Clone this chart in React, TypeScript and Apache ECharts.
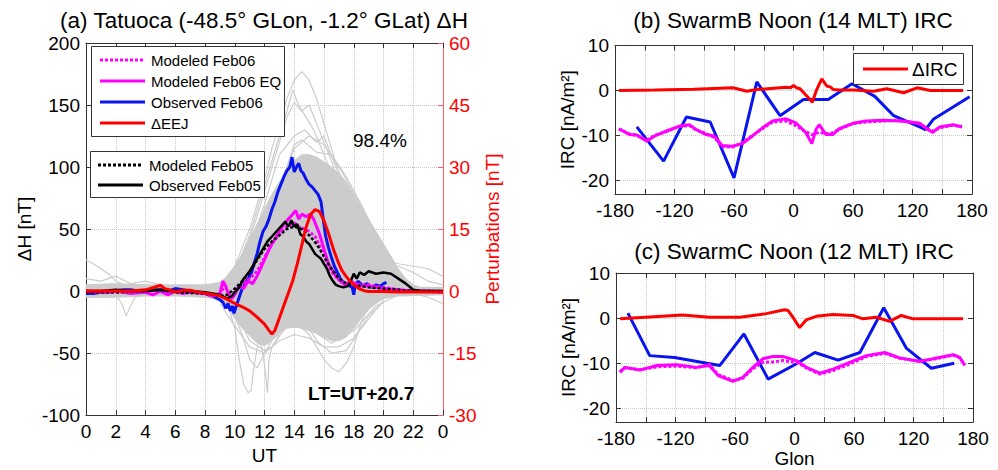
import React, { useEffect, useRef } from "react";
import * as echarts from "echarts";

// ---------- Panel (a): Tatuoca ΔH ----------
const UT_TICK_LABELS = ["0", "2", "4", "6", "8", "10", "12", "14", "16", "18", "20", "22", "0"];

const OBSERVED_FEB06: number[][] = [
  [0, -2], [0.5, -2], [1, -1], [1.5, -1], [2, 0], [2.5, 1], [3, 1], [3.5, 0], [4, 0], [4.5, 1], [5, 1], [5.5, 0],
  [6, 2], [6.5, 1], [7, 0], [7.5, -1], [8, -2], [8.5, -4], [9, -7], [9.2, -9], [9.4, -14], [9.55, -10], [9.7, -16],
  [9.85, -12], [9.95, -18], [10.1, -12], [10.3, -5], [10.5, 2], [10.7, 6], [10.9, 10], [11.1, 14], [11.3, 22],
  [11.5, 30], [11.7, 40], [11.9, 48], [12.1, 52], [12.3, 58], [12.5, 66], [12.7, 72], [12.9, 80], [13.1, 86],
  [13.3, 92], [13.5, 97], [13.7, 100], [13.85, 108], [14.0, 96], [14.15, 100], [14.3, 103], [14.45, 97],
  [14.6, 95], [14.8, 90], [15.0, 86], [15.2, 84], [15.4, 81], [15.6, 78], [15.8, 72], [15.95, 58], [16.1, 45],
  [16.3, 35], [16.5, 27], [16.7, 20], [16.9, 15], [17.1, 10], [17.3, 7], [17.6, 5], [17.9, 3], [18.0, -3],
  [18.1, 5], [18.3, 8], [18.6, 4], [18.9, 6], [19.2, 3], [19.5, 5], [19.8, 4], [20.0, 6], [20.2, 7],
];

const OBSERVED_FEB05: number[][] = [
  [0, 0], [1, 0], [2, 1], [3, 0], [4, 0], [5, 1], [6, 0], [7, 0], [8, -1], [8.5, -2], [9, -3], [9.5, -6], [9.8, -4],
  [10, -1], [10.3, 3], [10.6, 10], [11, 16], [11.3, 22], [11.6, 28], [11.9, 34], [12.2, 40], [12.5, 44], [12.8, 48],
  [13.1, 52], [13.4, 56], [13.6, 52], [13.8, 57], [14.0, 52], [14.2, 54], [14.4, 46], [14.6, 44], [14.8, 40],
  [15.0, 38], [15.2, 34], [15.4, 30], [15.6, 28], [15.8, 26], [16.0, 22], [16.2, 18], [16.4, 12], [16.6, 8],
  [16.8, 5], [17.0, 4], [17.3, 3], [17.6, 4], [17.8, 8], [18.0, 14], [18.2, 10], [18.4, 15], [18.7, 13], [19.0, 16],
  [19.5, 14], [20.0, 15], [20.5, 14], [21.0, 10], [21.5, 6], [22.0, 1], [22.5, 0], [23, 0], [24, 0],
];

const MODELED_FEB05: number[][] = [
  [0, -1], [2, -1], [4, 0], [5, 1], [6, -1], [8, -2], [9, -4], [9.5, -3], [10, 2], [10.5, 8], [11, 15], [11.5, 25],
  [12, 34], [12.5, 40], [13, 45], [13.5, 50], [14, 52], [14.5, 50], [15, 45], [15.5, 38], [16, 28], [16.5, 18],
  [17, 10], [17.5, 6], [18, 5], [18.5, 4], [19, 3], [20, 2], [21, 1], [22, 0], [24, 0],
];

const MODELED_FEB06_EQ: number[][] = [
  [0, 0], [1, -1], [2, 0], [3, -2], [4, -1], [4.5, -3], [5, 0], [5.5, -3], [6, 0], [6.5, -2], [7, -1], [8, -2],
  [8.5, -4], [9, -2], [9.2, 8], [9.4, 4], [9.6, -4], [9.8, -6], [10, -3], [10.3, 5], [10.6, 2], [10.9, 8], [11.2, 6],
  [11.5, 12], [11.8, 20], [12.1, 28], [12.4, 36], [12.7, 42], [13.0, 48], [13.3, 54], [13.6, 58], [13.9, 62],
  [14.1, 65], [14.3, 58], [14.5, 62], [14.8, 60], [15.1, 62], [15.3, 58], [15.5, 52], [15.7, 46], [15.9, 38],
  [16.1, 30], [16.3, 22], [16.5, 18], [16.8, 12], [17.1, 8], [17.4, 5], [17.8, 8], [18.1, 6], [18.5, 4], [19, 4],
  [19.5, 3], [20, 2], [21, 1], [22, 0], [23, 0], [24, -1],
];

const MODELED_FEB06: number[][] = [
  [0, -1], [2, -1], [4, 0], [5, 1], [6, -1], [7, -1], [8, -2], [9, -4], [9.3, 5], [9.6, -2], [10, -1], [10.5, 6],
  [11, 10], [11.5, 16], [12, 27], [12.5, 38], [13, 46], [13.5, 52], [14, 55], [14.3, 52], [14.7, 50], [15, 48],
  [15.4, 44], [15.8, 34], [16.2, 22], [16.6, 14], [17, 9], [17.5, 6], [18, 6], [18.5, 5], [19, 5], [19.5, 4],
  [20, 3], [21, 1], [22, 0], [24, -1],
];

// ΔEEJ on the right (Perturbations) axis
const DELTA_EEJ: number[][] = [
  [0, 0], [1, 0], [2, 0], [3, 0], [4, 0.3], [4.5, 0.8], [5, 1.4], [5.3, 0.6], [5.7, 0.2], [6, -0.2], [6.5, 0.2],
  [7, 0.2], [7.5, -0.2], [8, -0.5], [8.5, -0.8], [9, -1.2], [9.5, -2], [10, -3], [10.5, -3.8], [11, -4.8],
  [11.5, -6.3], [12, -8], [12.3, -9.5], [12.5, -10.4], [12.7, -9.5], [13, -6.5], [13.3, -3.5], [13.6, -0.5],
  [13.9, 2.5], [14.2, 6.5], [14.5, 11], [14.8, 15.5], [15.1, 18.5], [15.4, 19.7], [15.7, 19.2], [16.0, 17],
  [16.3, 14], [16.6, 10.5], [16.9, 7.5], [17.2, 5], [17.5, 3.5], [17.8, 2.2], [18.1, 1.2], [18.4, 0.5],
  [18.7, 0.1], [19, -0.1], [20, -0.1], [21, -0.2], [22, -0.2], [23, -0.2], [24, -0.2],
];

// Dense ensemble of gray curves: envelope
const BAND_UPPER: number[][] = [
  [0, 5], [2, 6], [4, 5], [6, 5], [8, 5], [9, 7], [9.5, 12], [10, 20], [10.5, 30], [11, 42], [11.5, 54], [12, 66],
  [12.5, 78], [13, 88], [13.5, 97], [14, 105], [14.5, 110], [15, 110], [15.5, 108], [16, 104], [16.5, 100],
  [17, 95], [17.5, 88], [18, 78], [18.5, 68], [19, 58], [19.5, 48], [20, 38], [20.5, 28], [21, 18], [21.5, 10],
  [22, 5], [22.5, 3], [24, 3],
];
const BAND_LOWER: number[][] = [
  [0, -5], [2, -5], [4, -4], [6, -4], [8, -5], [8.5, -6], [9, -8], [9.5, -12], [10, -22], [10.5, -30], [11, -36],
  [11.5, -42], [12, -44], [12.5, -40], [13, -34], [13.5, -30], [14, -29], [14.5, -30], [15, -32], [15.5, -34],
  [16, -37], [16.5, -40], [17, -40], [17.5, -37], [18, -30], [18.5, -22], [19, -15], [19.5, -10], [20, -6],
  [21, -4], [24, -3],
];

const GRAY_1 = [[8, 0], [9, 5], [10, 20], [11, 50], [12, 90], [12.5, 115], [13, 135], [13.5, 155], [14, 170], [14.5, 177], [15, 170], [15.5, 155], [16, 135], [16.5, 115], [17, 95], [17.5, 75], [18, 55], [19, 30], [20, 12], [21, 5], [22, 2]];
const GRAY_2 = [[9, 2], [10, 15], [11, 45], [12, 85], [13, 125], [13.5, 145], [13.9, 162], [14.3, 150], [14.8, 140], [15.3, 130], [16, 110], [17, 80], [18, 50], [19, 25], [20, 10], [21, 3]];
const GRAY_3 = [[9, 0], [10.5, 25], [11.5, 60], [12.5, 100], [13.5, 140], [14, 152], [14.5, 145], [15, 150], [15.5, 135], [16.5, 105], [17.5, 70], [18.5, 40], [19.5, 18], [20.5, 6]];
const GRAY_4 = [[9.5, 5], [11, 35], [12, 70], [13, 110], [14, 125], [14.7, 130], [15.5, 120], [16, 125], [16.8, 100], [17.5, 85], [18.5, 60], [19.5, 35], [20.5, 15], [21.5, 5]];
const GRAY_5 = [[0, 25], [0.5, 22], [1, 18], [1.5, 14], [2, 8], [2.5, 5], [3, 3], [4, 2], [5, 0]];
const GRAY_6 = [[1.5, 0], [2, -3], [2.4, -10], [2.7, -20], [3, -12], [3.3, -5], [3.8, -2], [4.5, 0]];
const GRAY_7 = [[9.5, -10], [10, -30], [10.3, -55], [10.6, -75], [10.9, -82], [11.1, -80], [11.3, -60], [11.6, -40], [12, -30]];
const GRAY_8 = [[11.5, -35], [11.8, -45], [12.0, -60], [12.2, -82], [12.3, -55], [12.5, -45], [13, -35]];
const GRAY_9 = [[14, -25], [15, -35], [15.5, -45], [16, -55], [16.5, -62], [17, -65], [17.5, -58], [18, -45], [18.5, -25], [19, -12]];
const GRAY_10 = [[14.5, -20], [15.5, -40], [16.5, -50], [17.5, -48], [18.5, -30], [19.5, -15], [20, -8]];
const GRAY_11 = [[18, 30], [19, 28], [20, 25], [21, 22], [22, 20], [23, 18], [24, 12]];
const GRAY_12 = [[19, 15], [20, 18], [21, 20], [22, 15], [23, 8], [24, 5]];
const GRAY_13 = [[0, 10], [1, 8], [2, 12], [3, 6], [4, 8], [5, 5], [6, 3]];
const GRAY_14 = [[21, 0], [22, -2], [23, -5], [24, -10]];
const GRAY_15 = [[10, -20], [10.5, -35], [11, -55], [11.5, -62], [12, -50], [12.5, -40]];
const GRAY_16 = [[10, 10], [11, 30], [12, 55], [13, 80], [14, 115], [15, 125], [16, 118], [17, 100], [18, 80], [19, 55], [20, 30], [21, 12], [22, 4]];
const GRAY_17 = [[11, 20], [12, 45], [13, 75], [13.5, 100], [14, 118], [14.5, 122], [15.5, 112], [16.5, 110], [17.5, 92], [18.5, 70], [19.5, 45], [20.5, 22], [21.5, 8]];
const GRAY_18 = [[9, -10], [10, -28], [11, -45], [12, -50], [13, -40], [14, -35], [15, -38], [16, -45], [17, -45], [18, -38], [19, -20], [20, -8]];
const GRAY_19 = [[10, -15], [11, -40], [12, -48], [12.5, -45], [13.5, -28], [15, -30], [16.5, -42], [18, -32], [19.5, -12], [21, -3]];
const GRAY_CURVES = [GRAY_1, GRAY_2, GRAY_3, GRAY_4, GRAY_5, GRAY_6, GRAY_7, GRAY_8, GRAY_9, GRAY_10, GRAY_11, GRAY_12, GRAY_13, GRAY_14, GRAY_15, GRAY_16, GRAY_17, GRAY_18, GRAY_19];

// ---------- Panels (b), (c): IRC vs Glon ----------
const GLON_TICK_LABELS = [-180, -120, -60, 0, 60, 120, 180];
const IRC_TICKS = [-20, -10, 0, 10];

const B_OBSERVED: number[][] = [
  [-158, -8.1], [-131, -15.7], [-108, -5.9], [-84, -7.0], [-60, -19.4], [-37, 1.9], [-13.6, -5.6], [10, -2.0],
  [35, -2.0], [59, 1.5], [82, -1.3], [101, -5.6], [129.5, -8.3], [133, -8.7], [141, -6.4], [177.6, -1.4],
];
const B_DELTA_IRC: number[][] = [
  [-176, 0], [-140, 0.1], [-100, 0.3], [-61, 0.6], [-47, -0.15], [-37, 0.2], [-20, 0.5], [-7, 0.7], [-3, 0.6],
  [0, 1.1], [3, 0.6], [6.6, 0.4], [15, -1.6], [19, -2.6], [23.4, 0.2], [28.5, 2.6], [33.5, 1.0], [37, 0.8],
  [40.3, 0.2], [47, 0.1], [60.5, 0.1], [80.7, -0.15], [94, 0.4], [111, -0.5], [124.6, 0.6], [138, 0], [171, 0],
];
const B_MODELED_EQ: number[][] = [
  [-176, -8.5], [-165, -9.8], [-158, -9.9], [-148, -11.3], [-140, -10.1], [-128, -9.0], [-115, -7.9], [-105, -7.6],
  [-98, -8.7], [-88, -9.8], [-80, -10.1], [-72, -12.2], [-62, -12.4], [-51.5, -11.8], [-41.4, -10.1], [-31.3, -8.3],
  [-21.2, -6.8], [-7.7, -6.3], [2.4, -7.2], [12.5, -9.4], [18.5, -11.8], [22.6, -8.7], [26, -7.6], [32.7, -9.8],
  [39.5, -9.8], [46.2, -8.5], [59.7, -7.3], [73, -6.8], [90, -6.6], [107, -6.8], [127, -7.2], [135.5, -8.7],
  [140.5, -9.3], [147.3, -8.1], [160.8, -7.6], [170, -8.1],
];
const B_MODELED: number[][] = [
  [-176, -8.6], [-165, -9.7], [-158, -10.0], [-148, -11.0], [-140, -10.0], [-128, -9.1], [-115, -8.0],
  [-105, -7.8], [-98, -8.8], [-88, -9.6], [-80, -10.4], [-72, -12.5], [-62, -12.6], [-51.5, -11.6], [-41.4, -10.0],
  [-31.3, -8.5], [-21.2, -7.0], [-7.7, -6.8], [2.4, -7.8], [12.5, -9.2], [18.5, -9.8], [26, -9.3], [32.7, -9.6],
  [39.5, -9.4], [46.2, -8.6], [59.7, -7.4], [73, -7.0], [90, -6.8], [107, -6.6], [127, -7.4], [135.5, -8.5],
  [140.5, -9.0], [147.3, -8.3], [160.8, -7.7], [170, -8.0],
];

const C_OBSERVED: number[][] = [
  [-168, 1.1], [-146, -8.3], [-121, -8.7], [-75.4, -10.5], [-51, -3.5], [-26.6, -13.5], [2, -10.1], [20.5, -7.6],
  [44, -9.3], [66, -7.6], [90, 2.3], [113, -6.7], [138, -11.1], [161, -10.0],
];
const C_DELTA_IRC: number[][] = [
  [-176, -0.15], [-150, 0.2], [-113, 0.7], [-86, 0.2], [-55, 0.2], [-28.5, 1.0], [-10, 1.85], [-6.6, 1.7],
  [-1.6, 0.2], [5.1, -2.1], [11.8, -0.4], [21.9, 0.4], [38.7, 0.8], [58.9, 0.6], [69, -0.15], [82.5, 0.2],
  [95.9, -0.7], [107.7, 0.6], [119.5, -0.15], [139.7, -0.15], [170, -0.15],
];
const C_MODELED_EQ: number[][] = [
  [-176, -12], [-171, -10.9], [-156, -11.5], [-139, -10.5], [-119, -10.3], [-99, -10.9], [-86, -10.5], [-77, -12.7],
  [-62, -14], [-52, -13.1], [-42, -10.9], [-32, -9.0], [-22, -8.5], [-11.6, -8.5], [1.9, -9.4], [12, -10.9],
  [25.5, -12.2], [38.9, -11.3], [55.7, -9.8], [72.5, -8.3], [91, -7.6], [106, -8.8], [126, -9.6], [139.7, -9.0],
  [160, -8.1], [166.7, -8.7], [171.7, -10.5],
];
const C_MODELED: number[][] = [
  [-176, -11.8], [-171, -11.0], [-156, -11.4], [-139, -10.8], [-119, -10.6], [-99, -11.0], [-86, -10.2],
  [-77, -12.5], [-62, -13.8], [-52, -13.3], [-42, -11.2], [-32, -9.8], [-22, -9.7], [-11.6, -9.4], [1.9, -9.8],
  [12, -11.0], [25.5, -12.4], [38.9, -11.6], [55.7, -10.2], [72.5, -8.5], [91, -7.8], [106, -8.9], [126, -9.5],
  [139.7, -9.1], [160, -8.2], [166.7, -8.8], [171.7, -10.3],
];

// ---------- styling ----------
const FONT = "'Liberation Sans', Arial, Helvetica, sans-serif";
const AXC = "#333333";
const GRIDC = "#c8c8c8";
const GRAY = "#cccccc";
const BLUE = "#0a14f0";
const RED = "#ff0000";
const MAGENTA = "#ff00ff";
const BLACK = "#000000";

function xAxisDef(gridIndex: number, min: number, max: number, interval: number, labels: boolean, formatter: any, name?: string, top?: boolean) {
  return {
    type: "value",
    gridIndex,
    min,
    max,
    interval,
    position: top ? "top" : "bottom",
    name: name || "",
    nameLocation: "middle",
    nameGap: 27,
    nameTextStyle: { fontSize: 19, color: "#000", fontFamily: FONT },
    axisLine: { show: true, onZero: false, lineStyle: { color: AXC, width: 1 } },
    axisTick: { show: true, inside: true, length: 5, lineStyle: { color: AXC } },
    axisLabel: { show: labels, color: "#000", fontSize: 19, fontFamily: FONT, margin: 7, formatter },
    splitLine: { show: !top, lineStyle: { color: GRIDC, type: "dotted", width: 1 } },
  };
}

function ircYAxis(gridIndex: number, right: boolean) {
  return {
    type: "value",
    gridIndex,
    min: -23,
    max: 10,
    position: right ? "right" : "left",
    name: right ? "" : "IRC [nA/m²]",
    nameLocation: "middle",
    nameGap: 38,
    nameRotate: 90,
    nameTextStyle: { fontSize: 19, color: "#000", fontFamily: FONT },
    axisLine: { show: true, onZero: false, lineStyle: { color: AXC, width: 1 } },
    axisTick: { show: true, inside: true, length: 5, customValues: IRC_TICKS, lineStyle: { color: AXC } },
    axisLabel: { show: !right, customValues: IRC_TICKS, color: "#000", fontSize: 19, fontFamily: FONT, margin: 6 },
    splitLine: { show: !right, lineStyle: { color: GRIDC, type: "dotted", width: 1 } },
  };
}

function lineSeries(name: string, data: number[][], color: string, width: number, dash: any, xi: number, yi: number, z: number) {
  return {
    type: "line",
    name,
    data,
    xAxisIndex: xi,
    yAxisIndex: yi,
    showSymbol: false,
    symbol: "none",
    silent: true,
    z,
    lineStyle: { color, width, type: dash || "solid" },
  };
}

function legendEntry(x: number, y: number, color: string, dash: any, label: string, size: number) {
  return [
    { type: "line", shape: { x1: x, y1: y, x2: x + 45, y2: y }, style: { stroke: color, lineWidth: 3, lineDash: dash || null }, z: 101 },
    { type: "text", x: x + 51, y, style: { text: label, fill: "#000", font: `${size}px ${FONT}`, align: "left", verticalAlign: "middle" }, z: 101 },
  ];
}

export default function App() {
  const ref = useRef<HTMLDivElement>(null);

  useEffect(() => {
    if (!ref.current) return;
    const chart = echarts.init(ref.current, undefined, { renderer: "svg" });

    const grayLines = GRAY_CURVES.map((g, i) => ({
      type: "line",
      name: "ensemble" + i,
      data: g,
      xAxisIndex: 0,
      yAxisIndex: 0,
      showSymbol: false,
      symbol: "none",
      silent: true,
      z: 2,
      lineStyle: { color: GRAY, width: 1.2 },
    }));

    const band = {
      type: "custom",
      name: "ensemble band",
      xAxisIndex: 0,
      yAxisIndex: 0,
      silent: true,
      z: 1,
      data: [[0, 0]],
      renderItem: (params: any, api: any) => {
        if (params.dataIndex !== 0) return null;
        const pts = BAND_UPPER.map((p) => api.coord(p)).concat(BAND_LOWER.slice().reverse().map((p) => api.coord(p)));
        return { type: "polygon", shape: { points: pts }, style: { fill: GRAY, stroke: GRAY, lineWidth: 1 } };
      },
    };

    const dot = [3, 2];

    const option: any = {
      animation: false,
      textStyle: { fontFamily: FONT },
      title: [
        { text: "(a) Tatuoca (-48.5° GLon, -1.2° GLat) ΔH", left: 264, top: 9, padding: 0, textAlign: "center", textStyle: { fontSize: 22.5, fontWeight: "normal", color: "#000", fontFamily: FONT } },
        { text: "(b) SwarmB Noon (14 MLT) IRC", left: 793, top: 9, padding: 0, textAlign: "center", textStyle: { fontSize: 22.5, fontWeight: "normal", color: "#000", fontFamily: FONT } },
        { text: "(c) SwarmC Noon (12 MLT) IRC", left: 794, top: 240, padding: 0, textAlign: "center", textStyle: { fontSize: 22.5, fontWeight: "normal", color: "#000", fontFamily: FONT } },
      ],
      grid: [
        { left: 86, top: 43, width: 357, height: 380 },
        { left: 615, top: 45.5, width: 357, height: 148.5 },
        { left: 616, top: 273, width: 357, height: 149 },
      ],
      xAxis: [
        xAxisDef(0, 0, 24, 2, true, (v: number) => UT_TICK_LABELS[Math.round(v / 2)], "UT"),
        xAxisDef(0, 0, 24, 2, false, undefined, undefined, true),
        xAxisDef(1, -180, 180, 30, true, (v: number) => (GLON_TICK_LABELS.includes(v) ? String(v) : "")),
        xAxisDef(1, -180, 180, 30, false, undefined, undefined, true),
        xAxisDef(2, -180, 180, 30, true, (v: number) => (GLON_TICK_LABELS.includes(v) ? String(v) : ""), "Glon"),
        xAxisDef(2, -180, 180, 30, false, undefined, undefined, true),
      ],
      yAxis: [
        {
          type: "value",
          gridIndex: 0,
          min: -100,
          max: 200,
          interval: 50,
          position: "left",
          name: "ΔH [nT]",
          nameLocation: "middle",
          nameGap: 52,
          nameRotate: 90,
          nameTextStyle: { fontSize: 19, color: "#000", fontFamily: FONT },
          axisLine: { show: true, onZero: false, lineStyle: { color: AXC, width: 1 } },
          axisTick: { show: true, inside: true, length: 5, lineStyle: { color: AXC } },
          axisLabel: { color: "#000", fontSize: 19, fontFamily: FONT, margin: 6 },
          splitLine: { show: true, lineStyle: { color: GRIDC, type: "dotted", width: 1 } },
        },
        {
          type: "value",
          gridIndex: 0,
          min: -30,
          max: 60,
          interval: 15,
          position: "right",
          name: "Perturbations [nT]",
          nameLocation: "middle",
          nameGap: 40,
          nameRotate: 90,
          nameTextStyle: { fontSize: 19, color: RED, fontFamily: FONT },
          axisLine: { show: true, onZero: false, lineStyle: { color: "#ff6060", width: 1 } },
          axisTick: { show: true, inside: true, length: 5, lineStyle: { color: "#ff6060" } },
          axisLabel: { color: RED, fontSize: 19, fontFamily: FONT, margin: 6 },
          splitLine: { show: false },
        },
        ircYAxis(1, false),
        ircYAxis(1, true),
        ircYAxis(2, false),
        ircYAxis(2, true),
      ],
      series: [
        band,
        ...grayLines,
        lineSeries("Observed Feb06", OBSERVED_FEB06, BLUE, 3, null, 0, 0, 5),
        lineSeries("Modeled Feb06", MODELED_FEB06, MAGENTA, 3, dot, 0, 0, 6),
        lineSeries("Modeled Feb06 EQ", MODELED_FEB06_EQ, MAGENTA, 3, null, 0, 0, 7),
        lineSeries("Modeled Feb05", MODELED_FEB05, BLACK, 2.5, dot, 0, 0, 8),
        lineSeries("Observed Feb05", OBSERVED_FEB05, BLACK, 2.5, null, 0, 0, 9),
        lineSeries("ΔEEJ", DELTA_EEJ, RED, 3, null, 0, 1, 10),

        lineSeries("SwarmB Observed", B_OBSERVED, BLUE, 3, null, 2, 2, 5),
        lineSeries("SwarmB Modeled", B_MODELED, MAGENTA, 3, dot, 2, 2, 6),
        lineSeries("SwarmB Modeled EQ", B_MODELED_EQ, MAGENTA, 3, null, 2, 2, 7),
        lineSeries("SwarmB ΔIRC", B_DELTA_IRC, RED, 3, null, 2, 2, 8),

        lineSeries("SwarmC Observed", C_OBSERVED, BLUE, 3, null, 4, 4, 5),
        lineSeries("SwarmC Modeled", C_MODELED, MAGENTA, 3, dot, 4, 4, 6),
        lineSeries("SwarmC Modeled EQ", C_MODELED_EQ, MAGENTA, 3, null, 4, 4, 7),
        lineSeries("SwarmC ΔIRC", C_DELTA_IRC, RED, 3, null, 4, 4, 8),
      ],
      graphic: [
        { type: "rect", shape: { x: 91.5, y: 46.5, width: 193, height: 90 }, style: { fill: "#fff", stroke: "#333", lineWidth: 1 }, z: 100 },
        ...legendEntry(100, 60, MAGENTA, dot, "Modeled Feb06", 15),
        ...legendEntry(100, 81, MAGENTA, null, "Modeled Feb06 EQ", 15),
        ...legendEntry(100, 102, BLUE, null, "Observed Feb06", 15),
        ...legendEntry(100, 123, RED, null, "ΔEEJ", 15),
        { type: "rect", shape: { x: 90.5, y: 151.5, width: 174, height: 46 }, style: { fill: "#fff", stroke: "#333", lineWidth: 1 }, z: 100 },
        ...legendEntry(98, 165, BLACK, dot, "Modeled Feb05", 15),
        ...legendEntry(98, 185, BLACK, null, "Observed Feb05", 15),
        { type: "rect", shape: { x: 853.5, y: 53.5, width: 110, height: 31 }, style: { fill: "#fff", stroke: "#333", lineWidth: 1 }, z: 100 },
        { type: "line", shape: { x1: 863, y1: 69, x2: 908, y2: 69 }, style: { stroke: RED, lineWidth: 3 }, z: 101 },
        { type: "text", x: 912, y: 69, style: { text: "ΔIRC", fill: "#000", font: `19px ${FONT}`, align: "left", verticalAlign: "middle" }, z: 101 },
        { type: "text", x: 353, y: 140, style: { text: "98.4%", fill: "#000", font: `19px ${FONT}`, align: "left", verticalAlign: "middle" }, z: 101 },
        { type: "text", x: 308, y: 393.5, style: { text: "LT=UT+20.7", fill: "#000", font: `bold 19px ${FONT}`, align: "left", verticalAlign: "middle" }, z: 101 },
      ],
    };

    chart.setOption(option);
    return () => chart.dispose();
  }, []);

  return <div ref={ref} style={{ width: 998, height: 470, position: "absolute", left: 0, top: 0 }} />;
}
